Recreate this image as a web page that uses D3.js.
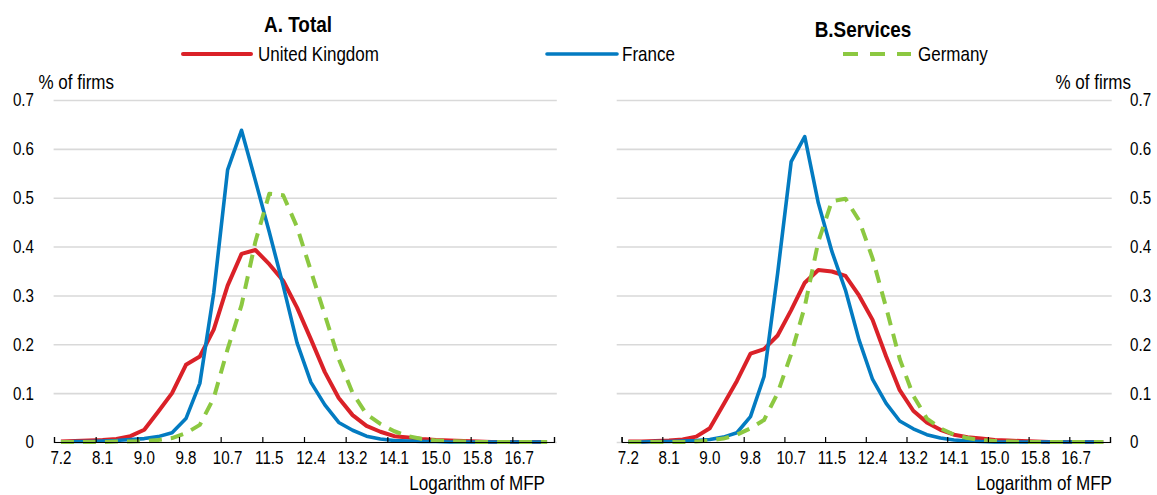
<!DOCTYPE html>
<html>
<head>
<meta charset="utf-8">
<script src="https://cdn.jsdelivr.net/npm/d3@7"></script>
<style>
  html, body { margin: 0; padding: 0; background: #ffffff; }
  svg { display: block; }
  text { font-family: "Liberation Sans", Arial, sans-serif; fill: #000; }
</style>
</head>
<body>
<svg id="chart" width="1157" height="495"></svg>
<script>
// MFP bins (logarithm of MFP), one per category on the x axis
const categories = ["7.2","7.5","7.8","8.1","8.4","8.7","9.0","9.2","9.5","9.8","10.1","10.4",
  "10.7","10.9","11.2","11.5","11.8","12.1","12.4","12.6","12.9","13.2","13.5","13.8",
  "14.1","14.4","14.7","15.0","15.2","15.5","15.8","16.1","16.4","16.7","17.0","17.3"];
// categories that carry a label (every third bin)
const tickLabels = ["7.2","8.1","9.0","9.8","10.7","11.5","12.4","13.2","14.1","15.0","15.8","16.7"];
const yTicks = [0, 0.1, 0.2, 0.3, 0.4, 0.5, 0.6, 0.7];

const seriesNames = ["United Kingdom", "France", "Germany"];

// Panel A: all firms
const totalUK = [0.001,0.002,0.003,0.004,0.006,0.012,0.025,0.062,0.100,0.158,0.175,0.230,
  0.320,0.385,0.393,0.364,0.330,0.275,0.210,0.143,0.090,0.055,0.033,0.021,
  0.012,0.009,0.006,0.004,0.003,0.002,0.001,0,0,0,0,0];
const totalFR = [0,0.001,0.001,0.002,0.003,0.005,0.007,0.011,0.019,0.048,0.120,0.305,
  0.557,0.638,0.535,0.430,0.320,0.203,0.122,0.076,0.040,0.024,0.012,0.006,
  0.003,0.002,0.001,0.001,0,0,0,0,0,0,0,0];
const totalDE = [0,0,0,0,0.001,0.001,0.002,0.004,0.008,0.018,0.035,0.090,
  0.190,0.280,0.410,0.508,0.505,0.440,0.350,0.260,0.170,0.100,0.057,0.037,
  0.022,0.012,0.006,0.003,0.002,0.001,0,0,0,0,0,0];

// Panel B: services firms
const servUK = [0.001,0.001,0.002,0.003,0.005,0.011,0.028,0.076,0.125,0.181,0.190,0.218,
  0.270,0.326,0.352,0.349,0.340,0.300,0.250,0.175,0.106,0.064,0.040,0.025,
  0.015,0.010,0.007,0.004,0.003,0.002,0.001,0,0,0,0,0];
const servFR = [0,0,0.001,0.001,0.002,0.003,0.005,0.010,0.019,0.052,0.134,0.345,
  0.574,0.625,0.489,0.390,0.311,0.209,0.128,0.079,0.043,0.027,0.015,0.008,
  0.004,0.002,0.001,0,0,0,0,0,0,0,0,0];
const servDE = [0,0,0,0,0,0.001,0.003,0.007,0.015,0.028,0.045,0.100,
  0.180,0.277,0.410,0.493,0.498,0.454,0.376,0.275,0.170,0.095,0.048,0.028,
  0.015,0.008,0.004,0.002,0.001,0,0,0,0,0,0,0];

const colors = { "United Kingdom": "#DA2128", "France": "#037BC1", "Germany": "#8CC841" };
const widths = { "United Kingdom": 4, "France": 3.6, "Germany": 4 };
const dashes = { "United Kingdom": null, "France": null, "Germany": "13,9" };

const svg = d3.select("#chart");
const FONT = "Liberation Sans, Arial, sans-serif";

// Horizontally condensed text, positioned with a transform
function label(x, y, txt, size, squeeze, anchor, weight) {
  return svg.append("text")
    .attr("transform", `translate(${x},${y}) scale(${squeeze},1)`)
    .attr("text-anchor", anchor || "start")
    .style("font-size", size + "px")
    .style("font-weight", weight || "normal")
    .text(txt);
}
function squeezeAxisText(g, s) {
  g.selectAll("text").each(function () {
    const t = d3.select(this);
    const x = +t.attr("x") || 0;
    t.attr("x", 0).attr("transform", `translate(${x},0) scale(${s},1)`);
  });
}

const y = d3.scaleLinear().domain([0, 0.7]).range([442, 100]);

function panel(opts) {
  const x = d3.scaleBand().domain(categories).range([opts.x0, opts.x1]).paddingInner(0).paddingOuter(0);
  const bw = x.bandwidth();

  // gridlines + value labels
  const yAxis = (opts.side === "left" ? d3.axisLeft(y) : d3.axisRight(y))
    .tickValues(yTicks)
    .tickSizeInner(-(opts.gx1 - opts.gx0))
    .tickSizeOuter(0)
    .tickPadding(opts.labelPad)
    .tickFormat(d => d === 0 ? "0" : d3.format(".1f")(d));
  const gy = svg.append("g")
    .attr("transform", `translate(${opts.side === "left" ? opts.gx0 : opts.gx1},0)`)
    .call(yAxis);
  gy.select(".domain").remove();
  gy.selectAll(".tick line").attr("stroke", "#D9D9D9").attr("stroke-width", 1.6);
  gy.selectAll("text").style("font-size", "18.5px").style("font-family", FONT).attr("fill", "#000");
  squeezeAxisText(gy, 0.82);

  // series lines
  const line = d3.line()
    .x((d, i) => x(categories[i]) + bw / 2)
    .y(d => y(d));
  opts.series.forEach((vals, k) => {
    const name = seriesNames[k];
    svg.append("path")
      .datum(vals)
      .attr("d", line)
      .attr("fill", "none")
      .attr("stroke", colors[name])
      .attr("stroke-width", widths[name])
      .attr("stroke-linejoin", "round")
      .attr("stroke-dasharray", dashes[name]);
  });

  // category axis: tick marks between every third bin
  const xi = d3.scaleLinear().domain([0, categories.length]).range([opts.x0, opts.x1]);
  const gTicks = svg.append("g")
    .attr("transform", `translate(0,${y(0)})`)
    .call(d3.axisBottom(xi).tickValues(d3.range(0, categories.length + 1, 3))
      .tickSizeInner(-5).tickSizeOuter(-5).tickFormat(""));
  gTicks.selectAll("line, path").attr("stroke", "#000").attr("stroke-width", 1.2);

  // category labels
  const gLab = svg.append("g")
    .attr("transform", `translate(0,${y(0)})`)
    .call(d3.axisBottom(x).tickValues(tickLabels).tickSize(0).tickPadding(9));
  gLab.select(".domain").remove();
  gLab.selectAll("text").style("font-size", "18.5px").style("font-family", FONT).attr("fill", "#000");
  squeezeAxisText(gLab, 0.82);

  // titles
  label(opts.titleX, opts.titleY, opts.title, 22, 0.86, "middle", "bold");
  label(opts.unitX, 89, "% of firms", 20, 0.85, opts.side === "left" ? "start" : "end");
  label(opts.xTitleX, 490, "Logarithm of MFP", 20, 0.855, "end");
}

panel({
  x0: 54, x1: 554, gx0: 53.6, gx1: 556.8, side: "left", labelPad: 19.6,
  series: [totalUK, totalFR, totalDE],
  title: "A. Total", titleX: 298, titleY: 31.5,
  unitX: 38.5, xTitleX: 545
});
panel({
  x0: 621.6, x1: 1110, gx0: 616.7, gx1: 1111.7, side: "right", labelPad: 18.3,
  series: [servUK, servFR, servDE],
  title: "B.Services", titleX: 863, titleY: 37,
  unitX: 1131, xTitleX: 1112
});

// legend
const legendItems = [
  { name: "United Kingdom", x1: 183, x2: 251, tx: 258 },
  { name: "France", x1: 547, x2: 617, tx: 622 },
  { name: "Germany", x1: 843, x2: 911, tx: 918 }
];
legendItems.forEach(it => {
  svg.append("line")
    .attr("x1", it.x1).attr("x2", it.x2).attr("y1", 54).attr("y2", 54)
    .attr("stroke", colors[it.name])
    .attr("stroke-width", widths[it.name])
    .attr("stroke-linecap", it.name === "Germany" ? "butt" : "round")
    .attr("stroke-dasharray", it.name === "Germany" ? "15,12" : null);
  label(it.tx, 60.5, it.name, 20, 0.85, "start");
});
</script>
</body>
</html>
